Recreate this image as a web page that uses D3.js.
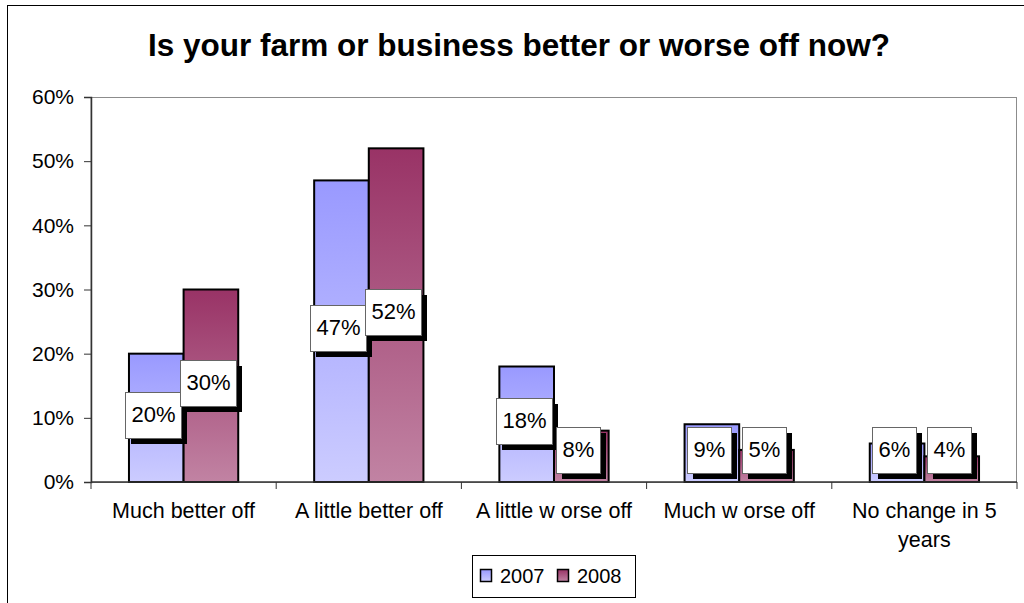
<!DOCTYPE html>
<html>
<head>
<meta charset="utf-8">
<script src="https://cdn.jsdelivr.net/npm/d3@7"></script>
<style>
  html, body { margin: 0; padding: 0; background: #fff; }
  svg { display: block; font-family: "Liberation Sans", Arial, sans-serif; }
</style>
</head>
<body>
<svg id="chart" width="1024" height="603"></svg>
<script>
// Survey answers and yearly shares
const categories = ["Much better off", "A little better off", "A little w orse off", "Much w orse off", "No change in 5 years"];
const seriesNames = ["2007", "2008"];
const values2007 = [0.20, 0.47, 0.18, 0.09, 0.06];
const values2008 = [0.30, 0.52, 0.08, 0.05, 0.04];
const yTicks = [0, 0.1, 0.2, 0.3, 0.4, 0.5, 0.6];
const titleText = "Is your farm or business better or worse off now?";

const rows = categories.map((c, i) => ({ category: c, "2007": values2007[i], "2008": values2008[i] }));

const svg = d3.select("#chart");
const plot = { left: 91, right: 1017, top: 97, bottom: 482 };

// Gradient fills, darker at the top of each bar
const defs = svg.append("defs");
const gradColors = { "2007": ["#9999FF", "#CCCCFF"], "2008": ["#993366", "#C183A3"] };
seriesNames.forEach(s => {
  const g = defs.append("linearGradient").attr("id", "grad" + s)
    .attr("x1", 0).attr("y1", 0).attr("x2", 0).attr("y2", 1);
  g.append("stop").attr("offset", "0%").attr("stop-color", gradColors[s][0]);
  g.append("stop").attr("offset", "100%").attr("stop-color", gradColors[s][1]);
});

// Outer chart frame
svg.append("rect").attr("x", 7.5).attr("y", 5.5).attr("width", 1030).attr("height", 620)
  .attr("fill", "#fff").attr("stroke", "#000").attr("stroke-width", 1);

// Title
svg.append("text").attr("x", 519).attr("y", 56).attr("text-anchor", "middle")
  .attr("font-size", 31.5).attr("font-weight", "bold").attr("fill", "#000").text(titleText);

const x0 = d3.scaleBand().domain(categories).range([plot.left, plot.right])
  .paddingInner(0.41).paddingOuter(0.205);
const x1 = d3.scaleBand().domain(seriesNames).range([0, x0.bandwidth()]);
const y = d3.scaleLinear().domain([0, 0.6]).range([plot.bottom, plot.top]);

// Plot area border
svg.append("rect").attr("x", plot.left).attr("y", plot.top + 0.5)
  .attr("width", plot.right - plot.left - 0.5).attr("height", plot.bottom - plot.top)
  .attr("fill", "none").attr("stroke", "#8c8c8c").attr("stroke-width", 1);

// Y axis
const yAxis = svg.append("g").attr("transform", `translate(${plot.left},0)`)
  .call(d3.axisLeft(y).tickValues(yTicks).tickFormat(d3.format(".0%")).tickSize(7).tickPadding(10));
yAxis.select(".domain").attr("stroke", "#333").attr("stroke-width", 1.5);
yAxis.selectAll(".tick line").attr("stroke", "#333");
yAxis.selectAll(".tick text").attr("font-size", 21).attr("fill", "#000")
  .attr("font-family", "'Liberation Sans', Arial, sans-serif");

// Bars
const groups = svg.append("g").selectAll("g").data(rows).join("g")
  .attr("transform", d => `translate(${x0(d.category)},0)`);
groups.selectAll("rect").data(d => seriesNames.map(s => ({ s, v: d[s] }))).join("rect")
  .attr("x", d => x1(d.s)).attr("width", x1.bandwidth())
  .attr("y", d => y(d.v)).attr("height", d => y(0) - y(d.v))
  .attr("fill", d => `url(#grad${d.s})`).attr("stroke", "#000").attr("stroke-width", 2);

// X axis with category separators
const xBoundaries = categories.map(c => x0(c) - x0.step() * x0.paddingOuter()).concat([plot.right]);
svg.append("line").attr("x1", plot.left).attr("x2", plot.right).attr("y1", plot.bottom).attr("y2", plot.bottom)
  .attr("stroke", "#333").attr("stroke-width", 1.5);
svg.append("g").selectAll("line").data(xBoundaries).join("line")
  .attr("x1", d => d).attr("x2", d => d).attr("y1", plot.bottom).attr("y2", plot.bottom + 7)
  .attr("stroke", "#333").attr("stroke-width", 1);

// Category labels, wrapped within one category width
const catLabels = svg.append("g").selectAll("text").data(categories).join("text")
  .attr("x", c => x0(c) + x0.bandwidth() / 2).attr("y", 518)
  .attr("text-anchor", "middle").attr("font-size", 21.5).attr("fill", "#000");
catLabels.each(function (c) {
  const t = d3.select(this);
  const words = c.split(" ");
  let line = [];
  const lines = [];
  const probe = t.append("tspan");
  words.forEach(w => {
    probe.text(line.concat([w]).join(" "));
    if (probe.node().getComputedTextLength() > 182 && line.length) {
      lines.push(line.join(" "));
      line = [w];
    } else {
      line.push(w);
    }
  });
  lines.push(line.join(" "));
  probe.remove();
  lines.forEach((l, i) => {
    t.append("tspan").attr("x", t.attr("x")).attr("dy", i === 0 ? 0 : 29).text(l);
  });
});

// Value labels: white boxes with a drop shadow, centred on each bar
const boxH = 46, shadow = 6, padX = 6, lowestBoxTop = 427;
const labels = svg.append("g");
seriesNames.forEach(s => {
  rows.forEach(d => {
    const v = d[s];
    const cx = x0(d.category) + x1(s) + x1.bandwidth() / 2;
    const cy = (y(v) + y(0)) / 2;
    const shadowRect = labels.append("rect");
    const box = labels.append("rect");
    const txt = labels.append("text").attr("text-anchor", "middle")
      .attr("font-size", 22).attr("fill", "#000").text(d3.format(".0%")(v));
    const boxW = Math.round(txt.node().getComputedTextLength() + 2 * padX);
    const bx = Math.round(cx - (boxW + shadow) / 2);
    const by = Math.min(Math.round(cy - (boxH + shadow) / 2), lowestBoxTop);
    shadowRect.attr("x", bx + shadow).attr("y", by + shadow)
      .attr("width", boxW).attr("height", boxH).attr("fill", "#000");
    box.attr("x", bx + 0.5).attr("y", by + 0.5)
      .attr("width", boxW).attr("height", boxH).attr("fill", "#fff")
      .attr("stroke", "#666").attr("stroke-width", 1);
    txt.attr("x", bx + boxW / 2 + 0.5).attr("y", by + boxH / 2 + 6.5);
  });
});

// Legend
const legend = svg.append("g");
legend.append("rect").attr("x", 472.5).attr("y", 555.5).attr("width", 163).attr("height", 42)
  .attr("fill", "#fff").attr("stroke", "#000").attr("stroke-width", 1);
const legendX = { "2007": 480, "2008": 557 };
seriesNames.forEach(s => {
  legend.append("rect").attr("x", legendX[s] + 0.5).attr("y", 569.5).attr("width", 11).attr("height", 12)
    .attr("fill", `url(#grad${s})`).attr("stroke", "#000").attr("stroke-width", 1.5);
  legend.append("text").attr("x", legendX[s] + 20).attr("y", 583)
    .attr("font-size", 20).attr("fill", "#000").text(s);
});
</script>
</body>
</html>
